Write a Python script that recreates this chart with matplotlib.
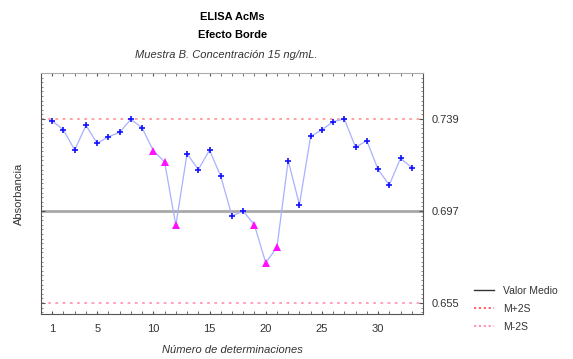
import matplotlib.pyplot as plt
from matplotlib.ticker import MultipleLocator, FixedLocator
from matplotlib.lines import Line2D

plt.rcParams['font.family'] = ['Liberation Sans', 'DejaVu Sans']

# determinaciones y absorbancias
det = list(range(1, 34))
absorb = [0.7381, 0.7340, 0.7248, 0.7361, 0.7279, 0.7309, 0.7329, 0.7389, 0.7349, 0.7245,
          0.7194, 0.6905, 0.7232, 0.7159, 0.7248, 0.7128, 0.6947, 0.6970, 0.6906, 0.6734,
          0.6804, 0.7200, 0.6999, 0.7311, 0.7340, 0.7378, 0.7390, 0.7261, 0.7291, 0.7160,
          0.7089, 0.7211, 0.7168]
fuera = [10, 11, 12, 19, 20, 21]  # puntos marcados con triangulo
media = 0.697
lim_sup = 0.739
lim_inf = 0.655
xticks = [1, 5, 10, 15, 20, 25, 30]

fig = plt.figure(figsize=(5.73, 3.59), dpi=100)
ax = fig.add_axes([0.0716, 0.1253, 0.6666, 0.6714])

ax.axhline(media, color='#a8a8a8', lw=2, zorder=1)
ax.axhline(lim_sup, color='#ff9a9a', lw=1.3, ls=(0, (1.5, 2.5)), zorder=1)
ax.axhline(lim_inf, color='#ff9ab4', lw=1.3, ls=(0, (1.5, 2.5)), zorder=1)

ax.plot(det, absorb, color='#a9b0ff', lw=0.9, zorder=2)
nx = [d for d in det if d not in fuera]
ny = [a for d, a in zip(det, absorb) if d not in fuera]
fy = [a for d, a in zip(det, absorb) if d in fuera]
ax.plot(nx, ny, ls='none', marker='+', ms=5, color='#1010ff', mew=1.2, zorder=3)
ax.plot(fuera, fy, ls='none', marker='^', ms=6, color='#ff10ff', mew=0, zorder=3)

ax.set_xlim(0, 34)
ax.set_ylim(0.650, 0.760)
ax.set_xticks(xticks)
ax.xaxis.set_minor_locator(MultipleLocator(1))
ax.tick_params(axis='x', which='both', direction='in', length=2, labelsize=8,
               colors='#555555', labelcolor='#333333', top=True, pad=7)

ax.yaxis.tick_right()
ax.set_yticks([lim_inf, media, lim_sup])
ax.set_yticklabels(['0.655', '0.697', '0.739'])
ax.yaxis.set_minor_locator(FixedLocator([lim_inf + 0.0021 * k for k in range(-3, 52)]))
ax.tick_params(axis='y', which='major', direction='in', length=3, labelsize=8,
               colors='#555555', labelcolor='#333333', left=True, right=True, pad=6)
ax.tick_params(axis='y', which='minor', direction='in', length=1.5, width=0.6,
               colors='#777777', left=True, right=True)
for s in ['left', 'bottom', 'right']:
    ax.spines[s].set_color('#555555')
ax.spines['top'].set_color('#aaaaaa')

ax.set_xlabel('Número de determinaciones', style='italic', fontsize=8, color='#333333', labelpad=8)
fig.text(0.033, 0.46, 'Absorbancia', rotation=90, fontsize=8, color='#333333', ha='center', va='center')

fig.text(0.405, 0.952, 'ELISA AcMs', fontsize=8, weight='bold', ha='center', va='center')
fig.text(0.405, 0.902, 'Efecto Borde', fontsize=8, weight='bold', ha='center', va='center')
fig.text(0.395, 0.847, 'Muestra B. Concentración 15 ng/mL.', fontsize=8, style='italic',
         color='#333333', ha='center', va='center')

handles = [Line2D([], [], color='#333333', lw=1),
           Line2D([], [], color='#ff5555', lw=1.3, ls=(0, (1.2, 1.5))),
           Line2D([], [], color='#ff88aa', lw=1.3, ls=(0, (1.2, 1.5)))]
fig.legend(handles, ['Valor Medio', 'M+2S', 'M-2S'], loc='lower left',
           bbox_to_anchor=(0.81, 0.05), frameon=False, fontsize=7.5, handlelength=2.0,
           labelspacing=0.75, labelcolor='#333333')

fig.savefig('out.png', dpi=100)
